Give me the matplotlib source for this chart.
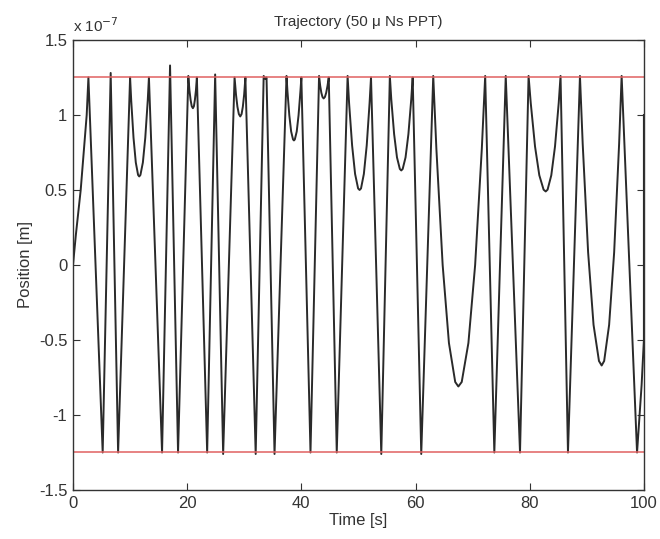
import numpy as np
import matplotlib
matplotlib.use("Agg")
import matplotlib.pyplot as plt

plt.rcParams['font.family'] = ['Liberation Sans', 'DejaVu Sans']
plt.rcParams['axes.unicode_minus'] = False

# trajectory (time in s, position in 1e-7 m)
time_s = [0.0, 0.5, 1.35, 2.4, 2.7,
          5.2, 6.6, 7.9,
          10.0, 10.2, 10.6, 11.0, 11.4, 11.6, 11.81, 12.24, 12.66, 13.09, 13.3,
          15.6, 17.0, 18.4,
          20.2, 20.4, 20.6, 20.8, 21.0, 21.18, 21.35, 21.53, 21.7,
          23.5, 24.9, 26.3,
          28.3, 28.55, 28.8, 29.05, 29.3, 29.53, 29.75, 29.98, 30.2,
          32.0, 33.4, 33.7, 33.9, 35.3,
          37.4, 37.56, 37.89, 38.21, 38.54, 38.7, 38.86, 39.19, 39.51, 39.84, 40.0,
          41.6,
          43.1, 43.3, 43.5, 43.7, 43.9, 44.13, 44.35, 44.58, 44.8,
          46.2,
          48.1, 48.36, 48.89, 49.41, 49.94, 50.2, 50.45, 50.95, 51.45, 51.95, 52.2,
          54.0,
          55.5, 55.75, 56.25, 56.75, 57.25, 57.5, 57.75, 58.25, 58.75, 59.25, 59.5,
          61.0,
          63.1, 63.65, 64.75, 65.85, 66.95, 67.5, 68.09, 69.26, 70.44, 71.61, 72.2,
          73.8, 75.8, 78.3,
          79.8, 80.18, 80.93, 81.68, 82.43, 82.8, 83.13, 83.78, 84.43, 85.08, 85.4,
          86.7,
          88.8, 89.28, 90.23, 91.18, 92.13, 92.6, 93.04, 93.91, 94.79, 95.66, 96.1,
          98.8, 99.6, 100.0, 100.0]
position = [0.0, 0.2, 0.5, 1.0, 1.25,
            -1.25, 1.28, -1.25,
            1.25, 1.095, 0.848, 0.683, 0.6, 0.59, 0.6, 0.683, 0.848, 1.095, 1.25,
            -1.25, 1.33, -1.25,
            1.26, 1.163, 1.1, 1.058, 1.045, 1.058, 1.1, 1.163, 1.25,
            -1.25, 1.27, -1.26,
            1.25, 1.136, 1.055, 1.006, 0.99, 1.006, 1.055, 1.136, 1.25,
            -1.26, 1.26, 1.24, 1.25, -1.26,
            1.26, 1.16, 0.998, 0.89, 0.837, 0.83, 0.837, 0.89, 0.998, 1.16, 1.25,
            -1.25,
            1.26, 1.194, 1.148, 1.12, 1.11, 1.12, 1.148, 1.194, 1.25,
            -1.25,
            1.26, 1.08, 0.797, 0.607, 0.51, 0.50, 0.51, 0.607, 0.797, 1.08, 1.25,
            -1.26,
            1.26, 1.105, 0.872, 0.717, 0.64, 0.63, 0.64, 0.717, 0.872, 1.105, 1.25,
            -1.26,
            1.26, 0.775, 0.0, -0.52, -0.78, -0.81, -0.78, -0.52, 0.0, 0.775, 1.26,
            -1.25, 1.26, -1.25,
            1.26, 1.08, 0.79, 0.598, 0.502, 0.49, 0.502, 0.598, 0.79, 1.08, 1.26,
            -1.25,
            1.26, 0.808, 0.084, -0.399, -0.64, -0.67, -0.64, -0.399, 0.084, 0.808, 1.26,
            -1.25, -0.8, -0.5, 1.0]

bound = 1.25  # red limit lines
x_ticks = [0, 20, 40, 60, 80, 100]
y_ticks = [-1.5, -1, -0.5, 0, 0.5, 1, 1.5]
y_labels = ['-1.5', '-1', '-0.5', '0', '0.5', '1', '1.5']

fig = plt.figure(figsize=(6.6, 5.39), dpi=100)
ax = fig.add_axes([0.1106, 0.0909, 0.865, 0.835])

ax.plot(time_s, position, color='#2a2a2a', linewidth=1.4)
ax.axhline(bound, color='#e06060', linewidth=1.1)
ax.axhline(-bound, color='#e06060', linewidth=1.1)

ax.set_xlim(0, 100)
ax.set_ylim(-1.5, 1.5)
ax.set_xticks(x_ticks)
ax.set_yticks(y_ticks)
ax.set_yticklabels(y_labels)
ax.tick_params(direction='in', top=True, right=True, length=5,
               labelsize=12, colors='#333333', pad=4)
for s in ax.spines.values():
    s.set_color('#333333')
    s.set_linewidth(1.0)

ax.set_title('Trajectory (50 \u03bc Ns PPT)', fontsize=11, color='#333333', pad=10)
ax.set_xlabel('Time [s]', fontsize=12, color='#333333', labelpad=2)
ax.set_ylabel('Position [m]', fontsize=12, color='#333333', labelpad=4)
ax.text(0.0, 1.012, 'x 10$^{-7}$', transform=ax.transAxes, fontsize=11,
        color='#333333', ha='left', va='bottom')

fig.savefig('out.png', dpi=100)
